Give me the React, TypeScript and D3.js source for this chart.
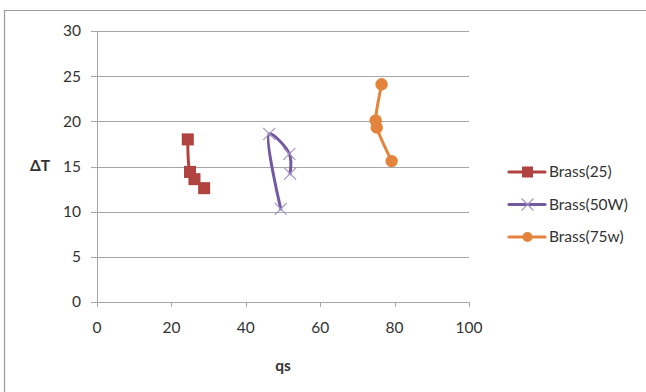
import React from "react";
import * as d3 from "d3";

// Series values (heat flux qs vs temperature difference ΔT)
const brass25X = [24.4, 25.0, 26.2, 28.8];
const brass25Y = [18.0, 14.4, 13.6, 12.6];
const brass50X = [49.4, 46.3, 51.7, 51.9];
const brass50Y = [10.3, 18.6, 16.4, 14.2];
const brass75X = [76.5, 74.9, 75.2, 79.2];
const brass75Y = [24.1, 20.1, 19.3, 15.6];

const seriesNames = ["Brass(25)", "Brass(50W)", "Brass(75w)"];
const xTicks = [0, 20, 40, 60, 80, 100];
const yTicks = [0, 5, 10, 15, 20, 25, 30];

const W = 646;
const H = 392;
const FONT = "Lato, 'Open Sans', sans-serif";
const FS = 15.5;

const colors = ["#B0423F", "#7259A0", "#E4843C"];

type Marker = "square" | "x" | "circle";

function MarkerShape({ kind, cx, cy, color }: { kind: Marker; cx: number; cy: number; color: string }) {
  if (kind === "square") {
    const s = 12;
    return <rect x={cx - s / 2} y={cy - s / 2} width={s} height={s} fill={color} />;
  }
  if (kind === "circle") {
    return <circle cx={cx} cy={cy} r={6.2} fill={color} />;
  }
  const r = 6;
  return (
    <g stroke="#A08EC4" strokeWidth={1.1}>
      <line x1={cx - r} y1={cy - r} x2={cx + r} y2={cy + r} />
      <line x1={cx - r} y1={cy + r} x2={cx + r} y2={cy - r} />
    </g>
  );
}

export default function App() {
  const x = d3.scaleLinear().domain([0, 100]).range([97, 469]);
  const y = d3.scaleLinear().domain([0, 30]).range([302, 31]);

  const series = [
    { name: seriesNames[0], xs: brass25X, ys: brass25Y, marker: "square" as Marker, color: colors[0] },
    { name: seriesNames[1], xs: brass50X, ys: brass50Y, marker: "x" as Marker, color: colors[1] },
    { name: seriesNames[2], xs: brass75X, ys: brass75Y, marker: "circle" as Marker, color: colors[2] },
  ];

  const line = d3
    .line<[number, number]>()
    .x((d) => x(d[0]))
    .y((d) => y(d[1]))
    .curve(d3.curveCatmullRom.alpha(0.5));

  return (
    <div style={{ position: "fixed", left: 0, top: 0 }}>
      <svg width={W} height={H} style={{ display: "block", background: "#fff" }}>
        {/* chart frame */}
        <line x1={4} y1={10.5} x2={W} y2={10.5} stroke="#9a9a9a" strokeWidth={1.2} />
        <line x1={4.5} y1={10} x2={4.5} y2={H} stroke="#9a9a9a" strokeWidth={1.2} />

        {/* gridlines */}
        {yTicks.map((t) => (
          <line key={"g" + t} x1={x(0)} x2={x(100)} y1={Math.round(y(t)) + 0.5} y2={Math.round(y(t)) + 0.5} stroke="#a6a6a6" strokeWidth={1} />
        ))}

        {/* y axis */}
        <line x1={x(0) + 0.5} x2={x(0) + 0.5} y1={y(30)} y2={y(0)} stroke="#a6a6a6" />
        {yTicks.map((t) => (
          <g key={"yt" + t}>
            <line x1={x(0) - 6} x2={x(0)} y1={Math.round(y(t)) + 0.5} y2={Math.round(y(t)) + 0.5} stroke="#a6a6a6" />
            <text x={81} y={y(t)} dy="0.35em" textAnchor="end" fontFamily={FONT} fontSize={FS} fill="#333">
              {t}
            </text>
          </g>
        ))}

        {/* x axis */}
        {xTicks.map((t) => (
          <g key={"xt" + t}>
            <line x1={Math.round(x(t)) + 0.5} x2={Math.round(x(t)) + 0.5} y1={y(0)} y2={y(0) + 5} stroke="#a6a6a6" />
            <text x={x(t)} y={328} dy="0.35em" textAnchor="middle" fontFamily={FONT} fontSize={FS} fill="#333">
              {t}
            </text>
          </g>
        ))}

        {/* axis titles */}
        <text x={40} y={166} dy="0.35em" textAnchor="middle" fontFamily={FONT} fontSize={FS} fontWeight="bold" fill="#333">
          ΔT
        </text>
        <text x={283} y={366} dy="0.35em" textAnchor="middle" fontFamily={FONT} fontSize={FS} fontWeight="bold" fill="#333">
          qs
        </text>

        {/* series */}
        {series.map((s) => {
          const pts = s.xs.map((v, i) => [v, s.ys[i]] as [number, number]);
          return (
            <g key={s.name}>
              <path d={line(pts) ?? ""} fill="none" stroke={s.color} strokeWidth={3} strokeLinejoin="round" strokeLinecap="round" />
              {pts.map((p, i) => (
                <MarkerShape key={i} kind={s.marker} cx={x(p[0])} cy={y(p[1])} color={s.color} />
              ))}
            </g>
          );
        })}

        {/* legend */}
        {series.map((s, i) => {
          const ly = 172 + i * 32.5;
          return (
            <g key={"lg" + s.name}>
              <line x1={509} x2={545} y1={ly} y2={ly} stroke={s.color} strokeWidth={3.2} strokeLinecap="round" />
              {s.marker === "square" ? (
                <rect x={522} y={ly - 5.5} width={11} height={11} fill={s.color} />
              ) : s.marker === "circle" ? (
                <circle cx={527.5} cy={ly} r={5} fill={s.color} />
              ) : (
                <MarkerShape kind="x" cx={527.5} cy={ly} color={s.color} />
              )}
              <text x={549} y={ly} dy="0.35em" fontFamily={FONT} fontSize={FS} fill="#333">
                {s.name}
              </text>
            </g>
          );
        })}
      </svg>
    </div>
  );
}
